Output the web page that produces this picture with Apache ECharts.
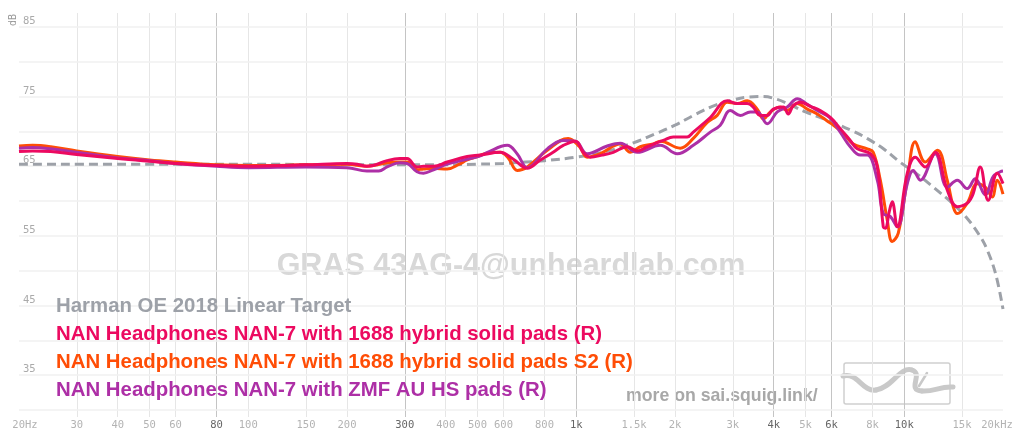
<!DOCTYPE html>
<html><head><meta charset="utf-8">
<script src="https://cdn.jsdelivr.net/npm/echarts@6/dist/echarts.min.js"></script>
<style>html,body{margin:0;padding:0;background:#fff}#c{width:1022px;height:442px}</style>
</head><body><div id="c"></div>
<script>
// ---- axis ticks ----
const freqTicks = [20,30,40,50,60,80,100,150,200,300,400,500,600,800,1000,1500,2000,3000,4000,5000,6000,8000,10000,15000,20000];
const freqTickLabels = ['20Hz','30','40','50','60','80','100','150','200','300','400','500','600','800','1k','1.5k','2k','3k','4k','5k','6k','8k','10k','15k','20kHz'];
const strongFreqTicks = [80,300,1000,4000,6000,10000];
const dbGrid = [30,35,40,45,50,55,60,65,70,75,80,85];
const dbLabels = [35,45,55,65,75,85];

// ---- series names ----
const seriesNames = [
  'Harman OE 2018 Linear Target',
  'NAN Headphones NAN-7 with 1688 hybrid solid pads (R)',
  'NAN Headphones NAN-7 with 1688 hybrid solid pads S2 (R)',
  'NAN Headphones NAN-7 with ZMF AU HS pads (R)'
];

// ---- target ----
const targetFreq = [20,50,100,200,300,400,500,600,700,800,1000,1250,1500,1750,2000,2300,2600,3000,3300,3700,4100,4500,5000,6000,7000,7700,8700,9700,11000,12260,14000,15560,17000,17900,19000,20000];
const targetDb   = [65.3,65.3,65.3,65.2,65.2,65.2,65.3,65.4,65.6,65.8,66.3,67.2,68.4,69.7,70.9,72.4,73.6,74.5,74.9,75.0,74.6,73.8,72.8,71.4,70.0,69.0,67.4,65.6,63.8,62.0,59.7,57.5,55.0,53.0,49.5,44.5];

// ---- 1688 hybrid solid pads (R) ----
const redFreq = [20,22,25,30,40,50,60,80,100,150,200,215,230,240,265,290,305,327,342,367,404,465,510,586,643,709,777,850,913,995,1050,1103,1200,1297,1430,1535,1646,1842,1976,2179,2274,2562,2887,3097,3321,3464,3637,3822,3987,4277,4429,4587,4820,5170,5546,5950,6381,6845,7191,7880,8276,8630,8760,9000,9190,9520,10215,10803,11590,12430,13520,14510,15560,16230,17050,18030,19210,20000];
const redDb   = [67.1,67.2,67.1,66.7,66.1,65.7,65.4,65.1,65.0,65.2,65.4,65.3,65.0,65.1,65.8,66.1,66.1,64.9,65.0,65.0,65.6,66.4,66.6,67.0,66.0,64.7,65.9,67.0,68.0,68.6,67.0,66.3,66.6,67.0,67.8,67.2,67.8,68.7,69.2,69.2,69.9,72.0,74.4,74.0,74.0,73.5,72.3,72.3,73.2,73.5,72.5,73.7,74.2,73.6,73.0,72.0,70.4,68.7,67.5,66.8,64.9,56.3,56.1,58.5,59.9,56.3,64.0,66.3,64.9,67.0,61.6,59.2,59.7,61.1,64.9,60.1,64.0,62.5];

// ---- 1688 hybrid solid pads S2 (R) ----
const orangeFreq = [20,22,25,30,40,50,60,80,100,150,200,230,265,290,305,327,342,367,404,440,465,500,536,586,620,661,709,816,945,1023,1080,1184,1362,1461,1567,1717,1804,2075,2274,2508,2690,2887,3097,3321,3563,3718,3905,4188,4398,4718,5061,5429,5823,6075,6519,6993,7714,8045,8452,8873,9190,9588,10215,10803,11590,12610,13520,14100,14510,15560,16700,17660,18540,19210,20000];
const orangeDb   = [67.9,68.0,67.8,67.2,66.4,65.9,65.6,65.2,65.1,65.2,65.3,65.0,65.5,65.6,65.6,64.5,64.6,64.7,64.6,65.3,65.9,66.4,66.9,67.0,66.2,64.4,64.9,67.3,69.0,67.8,66.3,66.8,68.2,67.0,67.8,68.2,68.6,67.6,69.0,71.3,72.3,74.2,74.0,74.4,73.2,71.8,72.8,73.5,73.0,74.0,73.2,72.5,71.5,70.9,69.7,68.2,67.5,67.0,63.0,57.3,54.2,55.4,63.0,68.5,65.6,67.3,63.0,59.2,58.2,59.7,62.5,62.0,60.6,63.0,61.0];

// ---- ZMF AU HS pads (R) ----
const purpleFreq = [20,22,25,30,40,50,60,80,100,150,200,230,250,265,290,305,327,342,367,404,465,510,536,616,660,709,816,913,995,1080,1243,1362,1535,1804,2032,2274,2562,2748,2948,3162,3393,3563,3822,4100,4398,4718,5061,5429,5950,6381,6845,7343,7714,8276,8630,9060,9520,10215,10650,11190,12430,13520,14510,15560,16460,17660,18670,19620,20000];
const purpleDb   = [67.6,67.7,67.5,67.0,66.2,65.8,65.4,65.0,64.8,64.9,64.8,64.3,64.3,64.9,65.5,65.4,64.2,64.0,64.5,65.3,66.0,66.5,67.0,68.0,66.8,64.8,67.5,68.7,68.6,66.8,67.9,68.3,67.0,68.0,66.8,68.0,69.9,70.9,73.0,72.3,72.8,72.8,71.1,72.8,73.5,74.7,73.9,73.0,71.9,69.9,67.8,66.6,66.6,63.0,58.2,57.8,56.3,62.5,64.4,63.0,66.8,62.0,63.0,61.8,63.2,60.9,63.5,64.2,64.3];

const colors = ['#9da1a8','#ec0a60','#ff4d06','#ad2fa6'];

function pairs(f, d) { return f.map((v, i) => [v, d[i]]); }

const chart = echarts.init(document.getElementById('c'), null, {renderer: 'canvas'});

const vLines = freqTicks.map((f, i) => {
  const strong = strongFreqTicks.includes(f);
  const edge = (f === 20 || f === 20000);
  return {
    xAxis: f,
    lineStyle: {color: edge ? 'rgba(255,255,255,0)' : (strong ? '#c4c4c4' : '#e6e6e6'), width: 1, type: 'solid'},
    label: {
      show: true, position: 'start', distance: 3,
      formatter: freqTickLabels[i],
      color: strong ? '#666' : '#b3b3b3',
      fontFamily: 'DejaVu Sans Mono', fontSize: 10.5,
      offset: f === 20 ? [6, 0] : (f === 20000 ? [-6, 0] : [0, 0])
    }
  };
});
const hLines = dbGrid.map(v => ({
  yAxis: v,
  lineStyle: {color: '#f0f0f0', width: 1.5, type: 'solid'},
  label: {
    show: dbLabels.includes(v), position: 'insideStartTop', distance: [4, 0],
    formatter: String(v), color: '#aaa',
    fontFamily: 'DejaVu Sans Mono', fontSize: 10.5
  }
}));

const logoStroke = {fill: 'none', stroke: '#c9c9c9', lineWidth: 5, lineCap: 'round'};

const option = {
  animation: false,
  backgroundColor: '#fff',
  grid: {left: 19, right: 19, top: 13, bottom: 25},
  xAxis: {
    type: 'log', logBase: 10, min: 20, max: 20000,
    axisLine: {show: false}, axisTick: {show: false}, axisLabel: {show: false}, splitLine: {show: false}
  },
  yAxis: {
    type: 'value', min: 29, max: 87,
    axisLine: {show: false}, axisTick: {show: false}, axisLabel: {show: false}, splitLine: {show: false}
  },
  legend: {
    orient: 'vertical', left: 51, top: 296, itemGap: 7.6,
    itemWidth: 0, itemHeight: 0, icon: 'rect', selectedMode: false,
    padding: 0,
    textStyle: {fontSize: 20.4, fontWeight: 'bold', fontFamily: 'Liberation Sans, Arial, sans-serif', lineHeight: 20.4},
    data: seriesNames.map((n, i) => ({name: n, textStyle: {color: colors[i]}}))
  },
  graphic: {
    elements: [
      {type: 'text', x: 511, y: 267, z: 0, silent: true,
       style: {text: 'GRAS 43AG-4@unheardlab.com', font: 'bold 30.5px "Liberation Sans", Arial, sans-serif', fill: '#d8d8d8', align: 'center', verticalAlign: 'middle'}},
      {type: 'text', x: 626, y: 396, silent: true,
       style: {text: 'more on sai.squig.link/', font: 'bold 17.7px "Liberation Sans", Arial, sans-serif', fill: '#a8a8a8', align: 'left', verticalAlign: 'middle'}},
      {type: 'rect', shape: {x: 844, y: 363, width: 106, height: 41, r: 2}, silent: true,
       style: {fill: 'rgba(255,255,255,0.6)', stroke: '#cfcfcf', lineWidth: 1.5}},
      {type: 'bezierCurve', silent: true, shape: {x1: 843, y1: 376, cpx1: 858, cpy1: 372, cpx2: 862, cpy2: 392, x2: 876, y2: 390}, style: logoStroke},
      {type: 'bezierCurve', silent: true, shape: {x1: 876, y1: 390, cpx1: 892, cpy1: 388, cpx2: 900, cpy2: 366, x2: 912, y2: 370}, style: logoStroke},
      {type: 'bezierCurve', silent: true, shape: {x1: 912, y1: 370, cpx1: 924, cpy1: 374, cpx2: 906, cpy2: 390, x2: 922, y2: 391}, style: logoStroke},
      {type: 'bezierCurve', silent: true, shape: {x1: 922, y1: 391, cpx1: 934, cpy1: 392, cpx2: 940, cpy2: 386, x2: 953, y2: 387}, style: logoStroke},
      {type: 'line', silent: true, shape: {x1: 927, y1: 373, x2: 919, y2: 386}, style: {stroke: '#c9c9c9', lineWidth: 2.5, lineCap: 'round'}},
      {type: 'text', x: 8, y: 26, rotation: Math.PI / 2, silent: true,
       style: {text: 'dB', font: '10px "DejaVu Sans Mono", monospace', fill: '#999'}}
    ]
  },
  series: [
    {
      type: 'line', name: '_grid', data: [], silent: true, z: 1,
      markLine: {silent: true, symbol: ['none', 'none'], z: 1, animation: false, data: vLines.concat(hLines)}
    },
    {
      type: 'line', name: seriesNames[0], data: pairs(targetFreq, targetDb), z: 3,
      showSymbol: false, smooth: 0.4,
      lineStyle: {color: colors[0], width: 3, type: [9, 5]}, itemStyle: {color: colors[0]}
    },
    {
      type: 'line', name: seriesNames[2], data: pairs(orangeFreq, orangeDb), z: 4,
      showSymbol: false, smooth: 0.4,
      lineStyle: {color: colors[2], width: 3}, itemStyle: {color: colors[2]}
    },
    {
      type: 'line', name: seriesNames[3], data: pairs(purpleFreq, purpleDb), z: 4,
      showSymbol: false, smooth: 0.4,
      lineStyle: {color: colors[3], width: 3}, itemStyle: {color: colors[3]}
    },
    {
      type: 'line', name: seriesNames[1], data: pairs(redFreq, redDb), z: 4,
      showSymbol: false, smooth: 0.4,
      lineStyle: {color: colors[1], width: 3}, itemStyle: {color: colors[1]}
    }
  ]
};
chart.setOption(option);
</script>
</body></html>
